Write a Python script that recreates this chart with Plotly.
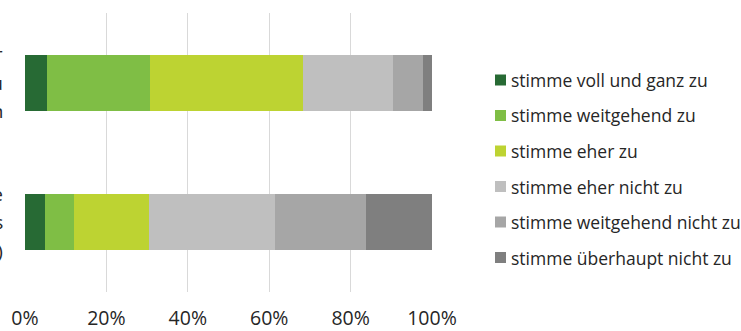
import plotly.graph_objects as go

# Survey statements (each split into three display lines)
statement_lines = [
    ["Digitale Medien sind für meinen Unterricht sehr",
     "wichtig, und ich setze sie gern dazu",
     "ein, Inhalte anschaulich zu vermitteln"],
    ["Die technische Ausstattung meiner Schule",
     "reicht für den Einsatz digitaler Medien aus",
     "(Angaben der Lehrkräfte)"],
]
categories = [" ".join(lines) for lines in statement_lines]

# Answer categories and shares in percent (one value per statement)
answer_labels = [
    "stimme voll und ganz zu",
    "stimme weitgehend zu",
    "stimme eher zu",
    "stimme eher nicht zu",
    "stimme weitgehend nicht zu",
    "stimme überhaupt nicht zu",
]
voll_und_ganz = [5.5, 4.8]
weitgehend = [25.3, 7.3]
eher = [37.6, 18.3]
eher_nicht = [21.9, 31.0]
weitgehend_nicht = [7.6, 22.4]
ueberhaupt_nicht = [2.1, 16.2]
answer_values = [voll_und_ganz, weitgehend, eher,
                 eher_nicht, weitgehend_nicht, ueberhaupt_nicht]

colors = ["#276a34", "#7fbe45", "#bdd332", "#bfbfbf", "#a6a6a6", "#7f7f7f"]

tick_values = [0, 20, 40, 60, 80, 100]
tick_labels = ["0%", "20%", "40%", "60%", "80%", "100%"]

FONT = "Open Sans"
TEXT_COLOR = "#262626"
W, H = 741, 331
M_L, M_R, M_T, M_B = 25, 309, 13, 39
PW, PH = W - M_L - M_R, H - M_T - M_B

fig = go.Figure()
for name, vals, col in zip(answer_labels, answer_values, colors):
    fig.add_trace(go.Bar(
        y=categories, x=vals, name=name, orientation="h",
        marker=dict(color=col, line=dict(width=0)),
        showlegend=False,
    ))

annotations = []
shapes = []

# Multi-line statement labels left of the bars
for cat, lines in zip(categories, statement_lines):
    for k, line in enumerate(lines):
        annotations.append(dict(
            xref="paper", yref="y", x=(5 - M_L) / PW, y=cat,
            yshift=(1 - k) * 28.5, text=line, showarrow=False,
            xanchor="right", yanchor="middle",
            font=dict(family=FONT, size=19, color=TEXT_COLOR),
        ))

# Legend: colour square plus label per answer category
leg_x_sq, leg_sq, leg_x_txt = 495, 11, 509
leg_y0, leg_step = 80, 35.5
for i, (name, col) in enumerate(zip(answer_labels, colors)):
    cy = leg_y0 + i * leg_step
    shapes.append(dict(
        type="rect", xref="paper", yref="paper",
        x0=(leg_x_sq - M_L) / PW, x1=(leg_x_sq + leg_sq - M_L) / PW,
        y0=(H - M_B - (cy + leg_sq / 2)) / PH, y1=(H - M_B - (cy - leg_sq / 2)) / PH,
        fillcolor=col, line=dict(width=0), layer="above",
    ))
    annotations.append(dict(
        xref="paper", yref="paper", x=(leg_x_txt - M_L) / PW,
        y=(H - M_B - cy) / PH, text=name, showarrow=False,
        xanchor="left", yanchor="middle",
        font=dict(family=FONT, size=17.5, color=TEXT_COLOR),
    ))

fig.update_layout(
    width=W, height=H,
    margin=dict(l=M_L, r=M_R, t=M_T, b=M_B, pad=0),
    barmode="stack", bargap=0.6,
    plot_bgcolor="white", paper_bgcolor="white",
    font=dict(family=FONT, color=TEXT_COLOR),
    annotations=annotations, shapes=shapes,
    showlegend=False,
)
fig.update_xaxes(
    range=[0, 100], tickvals=tick_values, ticktext=tick_labels,
    showgrid=True, gridcolor="#d9d9d9", gridwidth=1,
    zeroline=False, showline=False, ticks="",
    tickfont=dict(family=FONT, size=19.5, color=TEXT_COLOR),
    ticklabelstandoff=12, automargin=False, fixedrange=True,
)
fig.update_yaxes(
    type="category", categoryorder="array", categoryarray=categories,
    range=[1.5, -0.5], showticklabels=False, showgrid=False,
    zeroline=False, showline=False, ticks="", automargin=False,
    fixedrange=True,
)

fig.write_html("out.html", config={"displayModeBar": False})
